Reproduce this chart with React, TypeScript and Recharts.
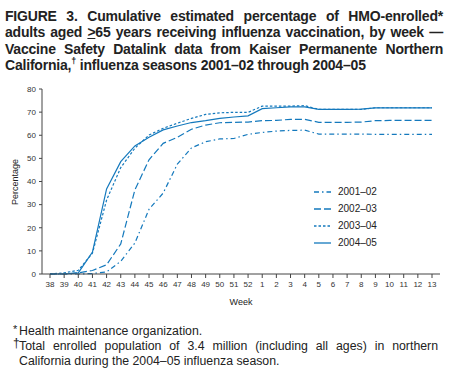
import { LineChart, Line, XAxis, YAxis } from 'recharts'

const weeks = ['38', '39', '40', '41', '42', '43', '44', '45', '46', '47', '48', '49', '50', '51', '52',
  '1', '2', '3', '4', '5', '6', '7', '8', '9', '10', '11', '12', '13']

const s2001 = [0, 0, 0, 0.2, 0.9, 5.5, 13.4, 28, 35, 47.5, 54.5, 57.2, 58.4, 58.6, 60.4,
  61.2, 61.8, 62.1, 62.2, 60.5, 60.5, 60.5, 60.5, 60.4, 60.4, 60.4, 60.4, 60.4]
const s2002 = [0, 0, 0.5, 1.5, 4, 13, 36.4, 49.4, 56.5, 59.1, 62.6, 64.4, 65.4, 65.6, 65.7,
  66.3, 66.4, 66.9, 66.9, 65.6, 65.6, 65.6, 65.7, 66.3, 66.4, 66.4, 66.4, 66.4]
const s2003 = [0, 0.5, 1.6, 9, 32, 46, 54.4, 60.1, 63, 65.2, 67.3, 69, 69.7, 69.9, 69.9,
  72.6, 72.6, 72.6, 72.8, 71.2, 71.2, 71.2, 71.2, 71.9, 71.9, 71.9, 71.9, 71.9]
const s2004 = [0, 0, 0.5, 9.5, 36.8, 48.6, 55.4, 59.1, 62.3, 64, 65.5, 66.3, 67.3, 67.9, 68.4,
  71.5, 71.9, 72.3, 72.3, 71.2, 71.2, 71.2, 71.3, 71.8, 71.8, 71.8, 71.8, 71.8]

const yTicks = [0, 10, 20, 30, 40, 50, 60, 70, 80]

const series = [
  { key: 'y2001', name: '2001–02', dash: '5 3 1.5 3' },
  { key: 'y2002', name: '2002–03', dash: '7 3' },
  { key: 'y2003', name: '2003–04', dash: '2.5 2' },
  { key: 'y2004', name: '2004–05', dash: undefined },
]

const data = weeks.map((w, i) => ({
  week: w, y2001: s2001[i], y2002: s2002[i], y2003: s2003[i], y2004: s2004[i],
}))

const BLUE = '#1479bd'
const AXIS = '#444'
const FONT = '"Liberation Sans", Arial, Helvetica, sans-serif'

function LegendBox() {
  return (
    <div style={{ position: 'absolute', left: 313, top: 183, fontSize: 10, color: '#222' }}>
      {series.map(s => (
        <div key={s.key} style={{ display: 'flex', alignItems: 'center', height: 17 }}>
          <svg width={20} height={6} style={{ marginRight: 5 }}>
            <line x1={1} y1={3} x2={18} y2={3} stroke={BLUE} strokeWidth={1.3} strokeDasharray={s.dash} />
          </svg>
          <span>{s.name}</span>
        </div>
      ))}
    </div>
  )
}

const lineStyle = (last: boolean) => ({
  whiteSpace: 'nowrap' as const, textAlign: 'justify' as const, textAlignLast: last ? 'left' as const : 'justify' as const,
})

export default function App() {
  return (
    <div style={{ position: 'absolute', left: 0, top: 0, width: 450, height: 380, background: '#fff', fontFamily: FONT, color: '#222' }}>
      <div style={{ position: 'absolute', left: 5, top: 8, width: 438, fontSize: 14, fontWeight: 'bold', lineHeight: '16.3px', letterSpacing: -0.2 }}>
        <div style={lineStyle(false)}>FIGURE 3. Cumulative estimated percentage of HMO-enrolled*</div>
        <div style={lineStyle(false)}>adults aged <u>&gt;</u>65 years receiving influenza vaccination, by week {'\u2014'}</div>
        <div style={lineStyle(false)}>Vaccine Safety Datalink data from Kaiser Permanente Northern</div>
        <div style={lineStyle(true)}>California,<sup style={{ fontSize: 9, lineHeight: 0 }}>{'\u2020'}</sup> influenza seasons 2001{'\u2013'}02 through 2004{'\u2013'}05</div>
      </div>

      <div style={{ position: 'absolute', left: 0, top: 0 }}>
        <LineChart width={450} height={310} data={data} margin={{ top: 89, right: 10, left: 0, bottom: 0 }}>
          <XAxis dataKey="week" interval={0} padding={{ left: 8, right: 8 }} height={36}
            tick={{ fontSize: 8, fill: '#333', fontFamily: FONT }} tickSize={4} tickMargin={3}
            stroke={AXIS} tickLine={{ stroke: AXIS }}
            label={{ value: 'Week', position: 'insideBottom', offset: 5, fontSize: 9, fill: '#222', fontFamily: FONT }} />
          <XAxis xAxisId="top" orientation="top" dataKey="week" height={0} tick={false} tickLine={false} stroke={AXIS} />
          <YAxis domain={[0, 80]} ticks={yTicks} width={42} tickSize={3} tickMargin={3}
            tick={{ fontSize: 8, fill: '#333', fontFamily: FONT }} stroke={AXIS} tickLine={{ stroke: AXIS }} />
          <YAxis yAxisId="right" orientation="right" domain={[0, 80]} width={0} tick={false} tickLine={false} stroke={AXIS} />
          {series.map(s => (
            <Line key={s.key} dataKey={s.key} name={s.name} type="linear" stroke={BLUE} strokeWidth={1.2}
              strokeDasharray={s.dash} dot={false} activeDot={false} isAnimationActive={false} />
          ))}
        </LineChart>
      </div>

      <LegendBox />

      <div style={{ position: 'absolute', left: 15, top: 182, transform: 'translate(-50%, -50%) rotate(-90deg)', fontSize: 9, whiteSpace: 'nowrap' }}>
        Percentage
      </div>

      <div style={{ position: 'absolute', left: 13, top: 324, width: 425, fontSize: 12.3, lineHeight: '15px' }}>
        <div style={{ position: 'absolute', left: 0, top: -2, fontSize: 11 }}>*</div>
        <div style={{ paddingLeft: 6 }}>Health maintenance organization.</div>
        <div style={{ position: 'absolute', left: 0, top: 12, fontSize: 12 }}>{'\u2020'}</div>
        <div style={{ paddingLeft: 6 }}>
          <div style={lineStyle(false)}>Total enrolled population of 3.4 million (including all ages) in northern</div>
          <div>California during the 2004–05 influenza season.</div>
        </div>
      </div>
    </div>
  )
}
